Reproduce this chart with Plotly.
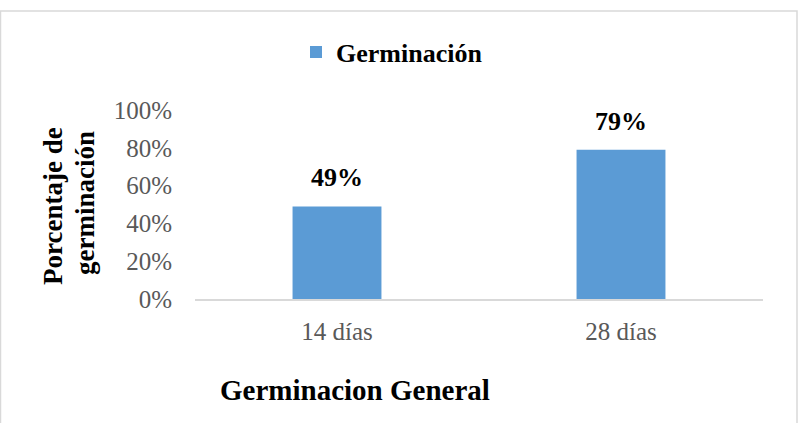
import plotly.graph_objects as go

categories = ["14 días", "28 días"]
values = [0.49, 0.79]
labels = ["49%", "79%"]
series_name = "Germinación"
y_ticks = [0, 0.2, 0.4, 0.6, 0.8, 1.0]
y_tick_text = ["0%", "20%", "40%", "60%", "80%", "100%"]

W, H = 806, 423
L, R, T, B = 195, 43, 110, 124
pw = W - L - R
ph = H - T - B

def px(x):
    return (x - L) / pw

def py(y):
    return (H - B - y) / ph

FONT = "Liberation Serif"

fig = go.Figure()
fig.add_trace(go.Bar(
    x=categories, y=values, name="<b>" + series_name + "</b>",
    marker=dict(color="#5B9BD5", line=dict(width=0)),
    showlegend=True,
))

annotations = []
for c, v, t in zip(categories, values, labels):
    annotations.append(dict(x=c, y=v, xref="x", yref="y", text="<b>" + t + "</b>", showarrow=False,
                            yanchor="bottom", yshift=12,
                            font=dict(family=FONT, size=26, color="#000000")))
annotations.append(dict(x=px(53), y=py(206), xref="paper", yref="paper",
                        text="<b>Porcentaje de</b>", textangle=-90, showarrow=False,
                        xanchor="center", yanchor="middle",
                        font=dict(family=FONT, size=27, color="#000000")))
annotations.append(dict(x=px(85), y=py(203), xref="paper", yref="paper",
                        text="<b>germinación</b>", textangle=-90, showarrow=False,
                        xanchor="center", yanchor="middle",
                        font=dict(family=FONT, size=27, color="#000000")))
annotations.append(dict(x=px(355), y=py(390), xref="paper", yref="paper",
                        text="<b>Germinacion General</b>", showarrow=False,
                        xanchor="center", yanchor="middle",
                        font=dict(family=FONT, size=29, color="#000000")))

fig.update_layout(
    width=W, height=H,
    margin=dict(l=L, r=R, t=T, b=B, pad=0),
    paper_bgcolor="white", plot_bgcolor="white",
    bargap=0.687,
    font=dict(family=FONT),
    showlegend=True,
    legend=dict(x=px(392), y=py(52), xanchor="center", yanchor="middle",
                orientation="h", itemwidth=30,
                font=dict(family=FONT, size=26, color="#000000"),
                bgcolor="rgba(0,0,0,0)"),
    annotations=annotations,
    shapes=[dict(type="rect", xref="paper", yref="paper",
                 x0=px(0.5), x1=px(797), y0=py(440), y1=py(11),
                 line=dict(color="#D9D9D9", width=1.5), fillcolor="rgba(0,0,0,0)",
                 layer="below")],
)
fig.update_xaxes(showgrid=False, showline=True, linecolor="#D9D9D9", linewidth=1.5,
                 ticks="", tickfont=dict(family=FONT, size=25, color="#595959"),
                 ticklabelstandoff=9, zeroline=False)
fig.update_yaxes(range=[0, 1.0], tickvals=y_ticks, ticktext=y_tick_text,
                 showgrid=False, showline=False, zeroline=False, ticks="",
                 tickfont=dict(family=FONT, size=25, color="#595959"),
                 ticklabelstandoff=22)

fig.write_html("out.html")
